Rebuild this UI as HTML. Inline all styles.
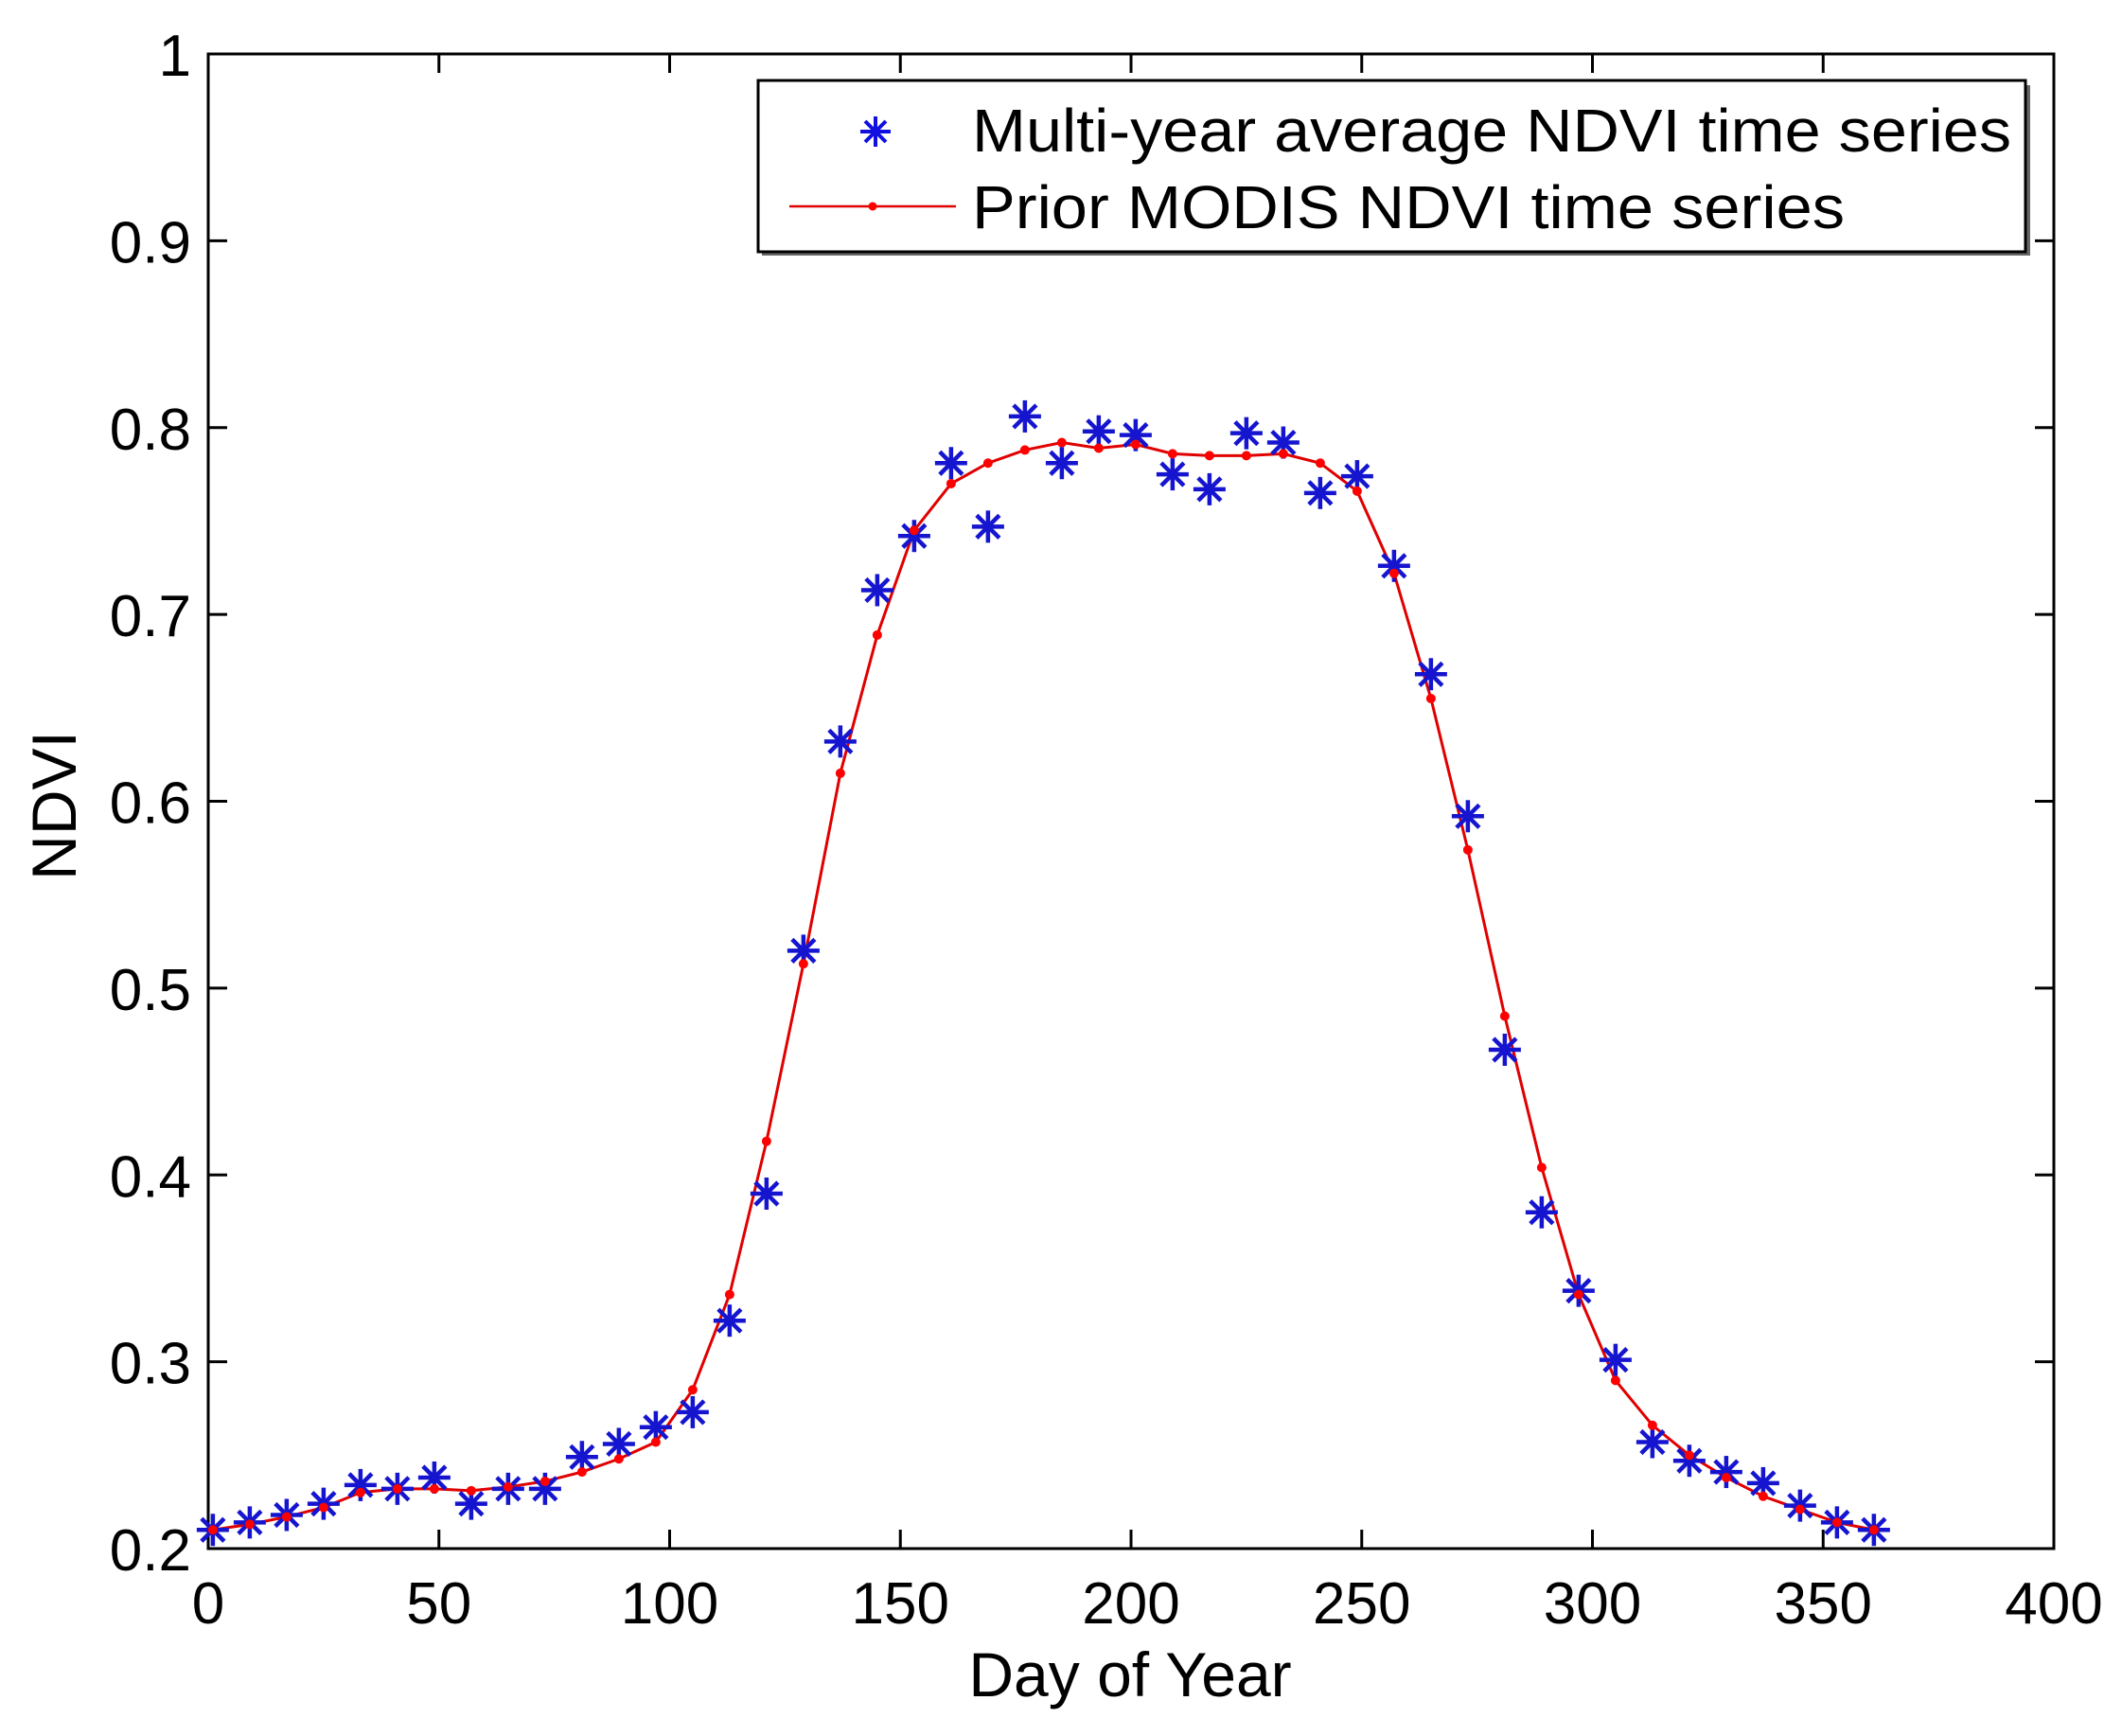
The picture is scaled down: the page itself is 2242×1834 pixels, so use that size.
<!DOCTYPE html>
<html><head><meta charset="utf-8"><style>
html,body{margin:0;padding:0;background:#fff}
svg{display:block}
text{font-family:"Liberation Sans",Arial,sans-serif;fill:#000}
</style></head><body>
<svg id="chart" width="2242" height="1834" xmlns="http://www.w3.org/2000/svg">
<g id="axes"></g>
<g id="series"></g>
<g id="legend">
  <rect x="805" y="90" width="1340" height="180" fill="#666"/>
  <rect x="801" y="85" width="1339" height="181" fill="#fff" stroke="#000" stroke-width="3"/>
  <g stroke="#1010e0" stroke-width="4" transform="translate(925,139)">
    <line x1="-16" y1="0" x2="16" y2="0"/><line x1="0" y1="-16" x2="0" y2="16"/>
    <line x1="-11" y1="-11" x2="11" y2="11"/><line x1="-11" y1="11" x2="11" y2="-11"/>
  </g>
  <text x="1027" y="160" font-size="64" textLength="1098" lengthAdjust="spacingAndGlyphs">Multi-year average NDVI time series</text>
  <line x1="834" y1="218" x2="1010" y2="218" stroke="#e00000" stroke-width="2.5"/>
  <circle cx="922" cy="218" r="4.5" fill="#ff0000"/>
  <text x="1027" y="241" font-size="64" textLength="922" lengthAdjust="spacingAndGlyphs">Prior MODIS NDVI time series</text>
</g>
<text transform="translate(80,851) rotate(-90)" text-anchor="middle" font-size="66">NDVI</text>
<text x="1194" y="1792" text-anchor="middle" font-size="66">Day of Year</text>
</svg>
<script>
const days = [1,9,17,25,33,41,49,57,65,73,81,89,97,105,113,121,129,137,145,153,161,169,177,185,193,201,209,217,225,233,241,249,257,265,273,281,289,297,305,313,321,329,337,345,353,361];
const avgNdvi = [0.21,0.214,0.218,0.224,0.234,0.232,0.238,0.224,0.232,0.232,0.249,0.256,0.265,0.273,0.322,0.39,0.52,0.632,0.713,0.742,0.781,0.747,0.806,0.781,0.798,0.796,0.775,0.767,0.797,0.792,0.765,0.774,0.726,0.668,0.592,0.467,0.38,0.338,0.301,0.257,0.247,0.241,0.235,0.223,0.214,0.21];
const priorNdvi = [0.21,0.213,0.217,0.222,0.23,0.232,0.232,0.231,0.233,0.236,0.241,0.248,0.257,0.285,0.336,0.418,0.513,0.615,0.689,0.745,0.77,0.781,0.788,0.792,0.789,0.791,0.786,0.785,0.785,0.786,0.781,0.766,0.722,0.655,0.574,0.485,0.404,0.336,0.29,0.266,0.25,0.238,0.228,0.221,0.214,0.21];
const xTicks = [0,50,100,150,200,250,300,350,400];
const yTicks = [0.2,0.3,0.4,0.5,0.6,0.7,0.8,0.9,1];
const yTickLabels = ["0.2","0.3","0.4","0.5","0.6","0.7","0.8","0.9","1"];

const L=220,R=2170,T=57,B=1636;
const xs=v=>L+(v-0)/400*(R-L);
const ys=v=>B-(v-0.2)/0.8*(B-T);
const NS="http://www.w3.org/2000/svg";
function mk(tag,attrs,parent){const e=document.createElementNS(NS,tag);for(const k in attrs)e.setAttribute(k,attrs[k]);parent.appendChild(e);return e;}
const axes=document.getElementById('axes');
const frame=mk('rect',{x:L,y:T,width:R-L,height:B-T,fill:'none',stroke:'#000','stroke-width':3},axes);


xTicks.forEach(t=>{
  const x=xs(t);
  const a=mk('line',{x1:x,y1:B,x2:x,y2:B-20,stroke:'#000','stroke-width':3},axes);
  
  
  const b=mk('line',{x1:x,y1:T,x2:x,y2:T+20,stroke:'#000','stroke-width':3},axes);
  
  
  const tx=mk('text',{x:x,y:1715,'text-anchor':'middle','font-size':62},axes);
  tx.textContent=String(t);
  
  
});
yTicks.forEach((t,i)=>{
  const y=ys(t);
  const a=mk('line',{x1:L,y1:y,x2:L+20,y2:y,stroke:'#000','stroke-width':3},axes);
  
  
  const b=mk('line',{x1:R,y1:y,x2:R-20,y2:y,stroke:'#000','stroke-width':3},axes);
  
  
  const tx=mk('text',{x:202,y:y+23,'text-anchor':'end','font-size':62},axes);
  tx.textContent=yTickLabels[i];
  
  
});
const ser=document.getElementById('series');
const pts=days.map((d,i)=>xs(d)+','+ys(priorNdvi[i])).join(' ');
const pl=mk('polyline',{points:pts,fill:'none',stroke:'#e00000','stroke-width':3},ser);


days.forEach((d,i)=>{
  const g=mk('g',{transform:`translate(${xs(d)},${ys(avgNdvi[i])})`,stroke:'#1515d0','stroke-width':4.5},ser);
  
  
  mk('line',{x1:-17,y1:0,x2:17,y2:0},g);
  mk('line',{x1:0,y1:-17,x2:0,y2:17},g);
  mk('line',{x1:-12,y1:-12,x2:12,y2:12},g);
  mk('line',{x1:-12,y1:12,x2:12,y2:-12},g);
});
days.forEach((d,i)=>{
  const c=mk('circle',{cx:xs(d),cy:ys(priorNdvi[i]),r:5,fill:'#ff0000'},ser);
  
  
});
</script>
</body></html>
